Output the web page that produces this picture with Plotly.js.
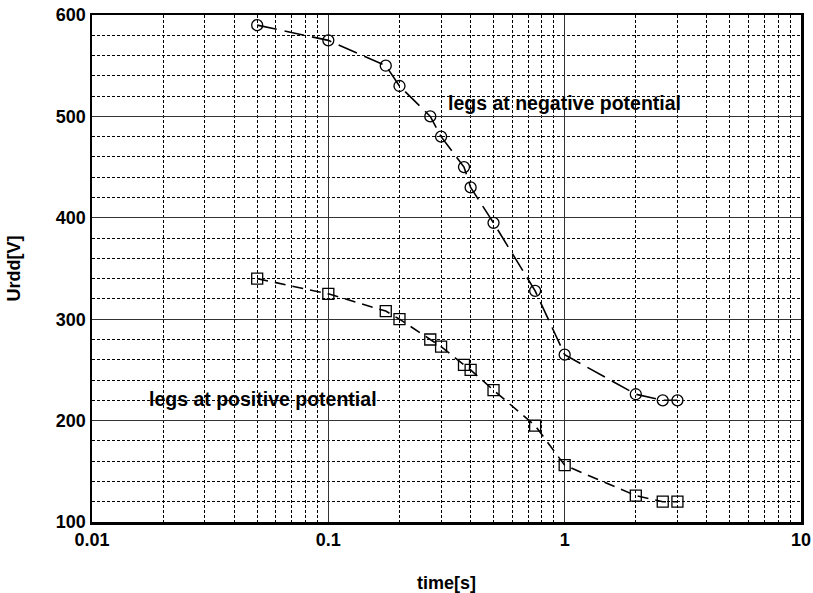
<!DOCTYPE html>
<html>
<head>
<meta charset="utf-8">
<script src="https://cdn.plot.ly/plotly-3.0.1.min.js"></script>
<style>html,body{margin:0;padding:0;background:#fff}#chart{width:813px;height:593px}</style>
</head>
<body>
<div id="chart"></div>
<script>
// Data
const timeNeg = [0.05, 0.1, 0.175, 0.2, 0.27, 0.3, 0.375, 0.4, 0.5, 0.75, 1, 2, 2.6, 3];
const urddNeg = [590, 575, 550, 530, 500, 480, 450, 430, 395, 328, 265, 226, 220, 220];
const timePos = [0.05, 0.1, 0.175, 0.2, 0.27, 0.3, 0.375, 0.4, 0.5, 0.75, 1, 2, 2.6, 3];
const urddPos = [340, 325, 308, 300, 280, 273, 255, 250, 230, 195, 156, 126, 120, 120];
const xTickVals = [0.01, 0.1, 1, 10];
const xTickText = ['0.01', '0.1', '1', '10'];
const yTickVals = [100, 200, 300, 400, 500, 600];
const labelNeg = 'legs at negative potential';
const labelPos = 'legs at positive potential';
const labelNegPos = {x: 1.0, y: 513};
const labelPosPos = {x: 0.0528, y: 221};

const font = 'Arial, "Liberation Sans", sans-serif';

const traces = [
  {
    x: timeNeg, y: urddNeg, mode: 'lines+markers', type: 'scatter',
    line: {color: '#000', width: 1.6, dash: '20px,8px'},
    marker: {symbol: 'circle-open', size: 11, color: '#000', line: {width: 1.3, color: '#000'}}
  },
  {
    x: timePos, y: urddPos, mode: 'lines+markers', type: 'scatter',
    line: {color: '#000', width: 1.6, dash: '11px,7px'},
    marker: {symbol: 'square-open', size: 11, color: '#000', line: {width: 1.3, color: '#000'}}
  }
];

const layout = {
  width: 813, height: 593,
  margin: {l: 91.5, r: 12, t: 15, b: 71},
  paper_bgcolor: '#fff', plot_bgcolor: '#fff',
  showlegend: false,
  font: {family: font, color: '#000'},
  xaxis: {
    type: 'log',
    range: [-2, 1],
    tickvals: xTickVals, ticktext: xTickText,
    ticks: '',
    tickfont: {family: font, size: 18, weight: 'bold', color: '#000'},
    showgrid: true, gridcolor: '#333', gridwidth: 1,
    minor: {dtick: 'D1', showgrid: true, gridcolor: '#000', gridwidth: 1, griddash: '3px,2px', ticks: ''},
    showline: true, linecolor: '#000', linewidth: 2.5, mirror: true,
    zeroline: false,
    title: {text: 'time[s]', font: {family: font, size: 18, weight: 'bold', color: '#000'}, standoff: 28}
  },
  yaxis: {
    range: [100, 600],
    tickvals: yTickVals,
    ticks: '',
    tickfont: {family: font, size: 18, weight: 'bold', color: '#000'},
    showgrid: true, gridcolor: '#333', gridwidth: 1,
    minor: {dtick: 20, showgrid: true, gridcolor: '#000', gridwidth: 1, griddash: '3px,2px', ticks: ''},
    showline: true, linecolor: '#000', linewidth: 2.5, mirror: true,
    zeroline: false,
    ticklabelstandoff: 0,
    title: {text: 'Urdd[V]', font: {family: font, size: 18, weight: 'bold', color: '#000'}, standoff: 31}
  },
  annotations: [
    {x: Math.log10(labelNegPos.x), y: labelNegPos.y, xref: 'x', yref: 'y', text: labelNeg, showarrow: false,
     xanchor: 'center', font: {family: font, size: 19.5, weight: 'bold', color: '#000'}},
    {x: Math.log10(labelPosPos.x), y: labelPosPos.y, xref: 'x', yref: 'y', text: labelPos, showarrow: false,
     xanchor: 'center', font: {family: font, size: 19.5, weight: 'bold', color: '#000'}}
  ]
};

Plotly.newPlot('chart', traces, layout, {staticPlot: true, displayModeBar: false});
</script>
</body>
</html>
